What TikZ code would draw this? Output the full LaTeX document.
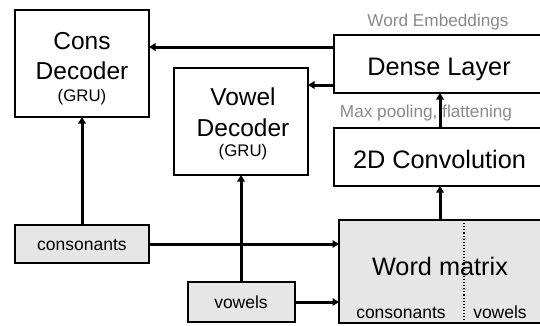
\documentclass[tikz,border=0pt]{standalone}
\usepackage{fontspec}
\setmainfont{Liberation Sans}
\usetikzlibrary{arrows.meta}
\definecolor{boxfill}{HTML}{E6E6E6}
\definecolor{notegray}{HTML}{8A8A8A}
\begin{document}
\begin{tikzpicture}[x=1pt,y=-1pt,
  box/.style={draw, line width=2pt, inner sep=0pt, outer sep=0pt, anchor=north west},
  inbox/.style={box, fill=boxfill},
  conn/.style={line width=3pt, -{Triangle[length=6.5pt,width=7.5pt]}},
  bigtxt/.style={anchor=base, inner sep=0pt, font=\fontsize{24.5}{29}\selectfont},
  hugetxt/.style={anchor=base, inner sep=0pt, font=\fontsize{25.3}{30}\selectfont},
  midtxt/.style={anchor=base, inner sep=0pt, font=\fontsize{17.5}{21}\selectfont},
  smalltxt/.style={anchor=base, inner sep=0pt, font=\fontsize{16.8}{20}\selectfont},
  note/.style={anchor=base, inner sep=0pt, text=notegray, font=\fontsize{17.2}{20}\selectfont}
]
\clip (0,0) rectangle (540,325);
\fill[white] (0,0) rectangle (540,325);

% boxes
\node[box, minimum width=134pt, minimum height=107pt] (cons) at (15,10) {};
\node[box, minimum width=134pt, minimum height=107pt] (vow) at (174,68) {};
\node[box, minimum width=230pt, minimum height=58pt] (dense) at (334,35) {};
\node[box, minimum width=230pt, minimum height=58pt] (conv) at (334,128) {};
\node[inbox, minimum width=230pt, minimum height=103pt] (wm) at (339,220) {};
\node[inbox, minimum width=134pt, minimum height=38pt] (cin) at (15,225) {};
\node[inbox, minimum width=107pt, minimum height=40pt] (vin) at (188,282) {};

% split of the word matrix
\coordinate (split) at (464,220);
\draw[dotted, line width=1.1pt] (split) -- (split |- wm.south);

% labels
\node[bigtxt] (t1) at (82,49) {Cons};
\node[bigtxt] (t2) at (82,79) {Decoder};
\node[smalltxt] (t3) at (82,101.5) {(GRU)};
\node[bigtxt] (t4) at (243,105) {Vowel};
\node[bigtxt] (t5) at (243,136) {Decoder};
\node[smalltxt] (t6) at (243,156) {(GRU)};
\node[hugetxt] (t7) at (439,75) {Dense Layer};
\node[hugetxt] (t8) at (439.5,168) {2D Convolution};
\node[hugetxt] (t9) at (440,275) {Word matrix};
\node[midtxt] (t10) at (401,318) {consonants};
\node[midtxt] (t11) at (500,318) {vowels};
\node[midtxt] (t12) at (82,250) {consonants};
\node[midtxt] (t13) at (241,308) {vowels};
\node[note] (t14) at (438,26) {Word Embeddings};
\node[note] (t15) at (426,117) {Max pooling, flattening};

% connectors
\draw[conn] (dense.west |- 0,47) -- (cons.east |- 0,47);
\draw[conn] (dense.west |- 0,85) -- (vow.east |- 0,85);
\draw[conn] (conv.north -| 440,0) -- (dense.south -| 440,0);
\draw[conn] (wm.north -| 440,0) -- (conv.south -| 440,0);
\draw[conn] (cin.north -| 82,0) -- (cons.south -| 82,0);
\draw[conn] (vin.north -| 241,0) -- (vow.south -| 241,0);
\draw[conn] (cin.east |- 0,244) -- (wm.west |- 0,244);
\draw[conn] (vin.east |- 0,302) -- (wm.west |- 0,302);
\end{tikzpicture}
\end{document}
